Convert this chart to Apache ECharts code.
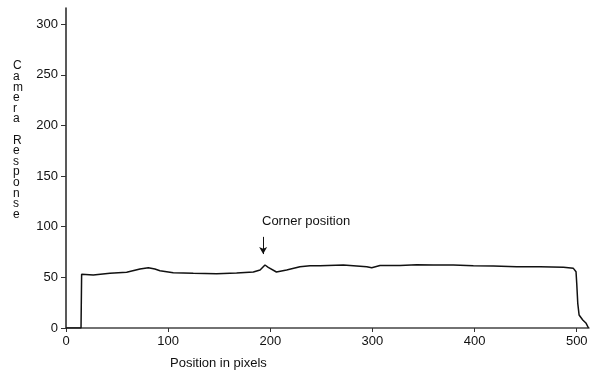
<!DOCTYPE html>
<html>
<head>
<meta charset="utf-8">
<script src="https://cdn.jsdelivr.net/npm/echarts@6/dist/echarts.min.js"></script>
<style>
html,body{margin:0;padding:0;background:#fff;}
#c{width:591px;height:376px;}
</style>
</head>
<body>
<div id="c"></div>
<script>
// Position in pixels (x) and camera response (y)
const positions = [0, 14.7, 15.3, 26.7, 43, 59.4, 72.4, 80.6, 87, 92, 105, 124.6, 147.5, 167, 183.4, 190, 194.8, 198, 206, 216, 229, 238.9, 248.7, 271.5, 294.4, 299.3, 307.4, 327, 343.3, 359.6, 379.2, 398.8, 418.4, 441.2, 464, 487, 496.7, 499.3, 500, 501, 502.3, 505.9, 509.2, 511.5];
const responses = [0, 0, 53, 52.3, 54, 55, 58.2, 59.5, 58.2, 56.6, 54.6, 54, 53.6, 54.2, 55.3, 57.2, 62.2, 59.9, 55.3, 57.2, 60.5, 61.5, 61.5, 62.2, 60.5, 59.5, 61.8, 61.8, 62.5, 62.2, 62.2, 61.5, 61.2, 60.5, 60.5, 59.9, 58.9, 55.6, 44, 24.4, 12.8, 7.9, 4.6, 0];
const xTicks = [0, 100, 200, 300, 400, 500];
const yTicks = [0, 50, 100, 150, 200, 250, 300];
const cornerX = 193;
const arrowFrom = 90;
const arrowTo = 73;
const xTitle = 'Position in pixels';
const yTitle = 'Camera Response';
const annotation = 'Corner position';

const FONT = '"Liberation Sans", Arial, sans-serif';
const chart = echarts.init(document.getElementById('c'), null, {renderer: 'canvas'});
const seriesData = positions.map((p, i) => [p, responses[i]]);

chart.setOption({
  animation: false,
  backgroundColor: '#fff',
  grid: {left: 66, right: 2, top: 8, bottom: 48},
  xAxis: {
    type: 'value', min: 0, max: 512, interval: 100,
    axisLine: {show: true, lineStyle: {color: '#444', width: 1.5}},
    axisTick: {show: true, length: 4, customValues: xTicks, lineStyle: {color: '#333'}},
    axisLabel: {
      margin: 7, fontSize: 13, color: '#111', fontFamily: FONT,
      customValues: xTicks
    },
    splitLine: {show: false}
  },
  yAxis: {
    type: 'value', min: 0, max: 316, interval: 50,
    axisLine: {show: true, lineStyle: {color: '#222', width: 1.5}},
    axisTick: {show: true, length: 5, customValues: yTicks, lineStyle: {color: '#333'}},
    axisLabel: {
      margin: 8, fontSize: 13, color: '#111', fontFamily: FONT,
      customValues: yTicks
    },
    splitLine: {show: false}
  },
  graphic: [
    {
      type: 'text', left: 13, top: 60,
      style: {
        text: yTitle.split('').join('\n'),
        fontSize: 12, lineHeight: 10.6, fill: '#111', fontFamily: FONT, align: 'center'
      }
    },
    {
      type: 'text', left: 170, top: 357,
      style: {text: xTitle, fontSize: 13, fill: '#111', fontFamily: FONT}
    },
    {
      type: 'text', left: 262, top: 215,
      style: {text: annotation, fontSize: 13, fill: '#111', fontFamily: FONT}
    }
  ],
  series: [{
    type: 'line',
    data: seriesData,
    showSymbol: false,
    smooth: false,
    lineStyle: {color: '#111', width: 1.5},
    markLine: {
      silent: true,
      symbol: ['none', 'arrow'],
      symbolSize: [6, 7],
      label: {show: false},
      lineStyle: {color: '#111', width: 1, type: 'solid'},
      data: [[{coord: [cornerX, arrowFrom]}, {coord: [cornerX, arrowTo]}]]
    }
  }]
});
</script>
</body>
</html>
